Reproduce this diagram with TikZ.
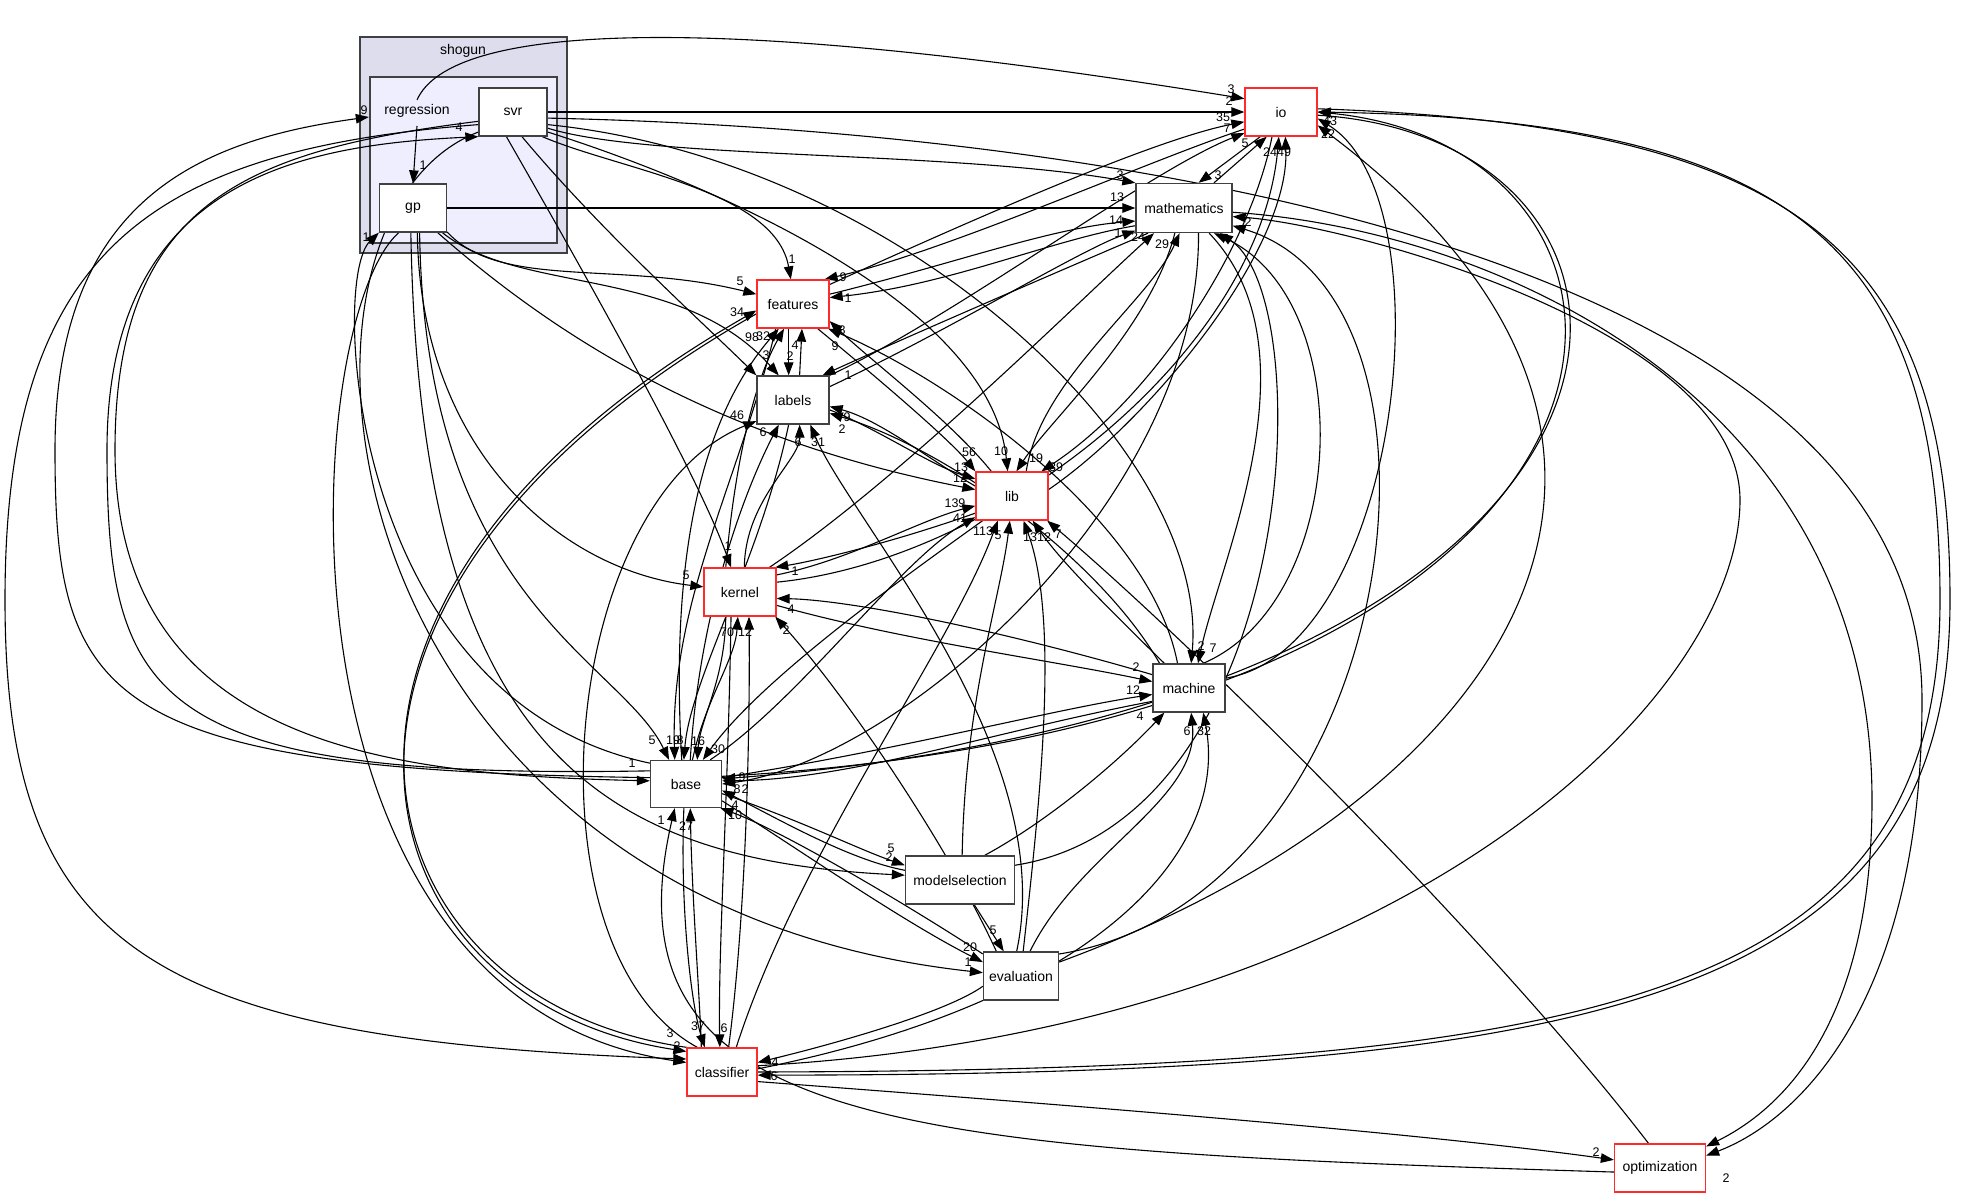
\documentclass[tikz,border=0pt]{standalone}
\usepackage{fontspec}
\setmainfont{Liberation Sans}
\usetikzlibrary{arrows.meta,backgrounds}
\definecolor{boxgray}{HTML}{404040}
\definecolor{borderred}{HTML}{FF2A2A}
\definecolor{shogunbg}{HTML}{DDDDEE}
\definecolor{regressionbg}{HTML}{EEEEFF}
\begin{document}
\begin{tikzpicture}
  [x=1pt,y=-1pt,
  dirbox/.style={draw=boxgray,line width=1.3pt,fill=white,inner sep=0pt,
    minimum width=72pt,minimum height=48pt,font=\fontsize{14}{16}\selectfont},
  reddir/.style={dirbox,draw=borderred},
  cluster/.style={draw=boxgray,line width=1.3pt},
  dep/.style={line width=1.1pt,-{Triangle[length=13pt,width=9.5pt]}},
  lbl/.style={inner sep=0pt,font=\fontsize{12.5}{14}\selectfont}]
  \useasboundingbox (0,0) rectangle (1979,1197);
  %Verzeichnisse
  \node [font=\fontsize{14}{16}\selectfont] (shoguntitle) at (463,51) {shogun};
  \node [inner sep=0pt,minimum width=96pt,minimum height=48pt,
    font=\fontsize{14}{16}\selectfont] (regression) at (417,111) {regression};
  \node [dirbox,minimum width=68pt] (svr) at (513,112) {svr};
  \node [dirbox,minimum width=67pt] (gp) at (413,208) {gp};
  \node [reddir] (io) at (1281,112) {io};
  \node [dirbox,minimum width=96pt,minimum height=49pt] (math) at (1184,208) {mathematics};
  \node [reddir] (features) at (793,304) {features};
  \node [dirbox] (labels) at (793,400) {labels};
  \node [reddir] (lib) at (1012,496) {lib};
  \node [reddir] (kernel) at (740,592) {kernel};
  \node [dirbox,minimum width=71pt,minimum height=47pt] (base) at (686,784) {base};
  \node [dirbox] (machine) at (1189,688) {machine};
  \node [dirbox,minimum width=109pt] (modelselection) at (960,880) {modelselection};
  \node [dirbox,minimum width=75pt] (evaluation) at (1021,976) {evaluation};
  \node [reddir,minimum width=70pt] (classifier) at (722,1072) {classifier};
  \node [reddir,minimum width=91pt] (optimization) at (1660,1168) {optimization};
  \begin{pgfonlayer}{background}
  %Cluster
  \draw [cluster,fill=shogunbg] (360,37) rectangle (567,253);
  \draw [cluster,fill=regressionbg] (370,77) rectangle (557,243);
  %regression, svr
  \draw [dep] ([yshift=-15pt]regression.center) -- (gp.north) node [lbl] at (423,165) {1};
  \draw [dep] ([yshift=11pt]regression.center) .. controls (450,25) and (700,10) .. (io.160) node [lbl] at (1231,89) {3};
  \draw [dep] (svr.east) -- (io.west) node [lbl] at (1229,101) {2};
  \draw [dep] (svr.-25) .. controls (650,160) and (950,150) .. (math.north west) node [lbl] at (1120,175) {3};
  \draw [dep] (svr.-40) .. controls (620,170) and (775,190) .. (features.95) node [lbl] at (792,259) {1};
  \draw [dep] (svr.-70) .. controls (600,230) and (700,320) .. (labels.north west);
  \draw [dep] (svr.-105) .. controls (600,300) and (700,480) .. (kernel.110) node [lbl] at (728,546) {1};
  \draw [dep] (svr.-30) .. controls (700,180) and (990,300) .. (lib.100) node [lbl] at (1001,451) {10};
  \draw [dep] (svr.-20) .. controls (900,160) and (1210,450) .. (machine.85) node [lbl] at (1201,646) {2};
  \draw [dep] (svr.-10) .. controls (1100,130) and (1922,250) .. (1922,700) .. controls (1922,1000) and (1800,1120) .. (optimization.15);
  \draw [dep] (svr.-150) .. controls (250,220) and (320,900) .. (evaluation.175) node [lbl] at (968,962) {1};
  \draw [dep] (svr.200) .. controls (150,150) and (5,250) .. (5,600) .. controls (5,950) and (150,1040) .. (classifier.160) node [lbl] at (670,1033) {3};
  \draw [dep] (svr.195) .. controls (250,150) and (115,200) .. (115,450) .. controls (115,750) and (400,775) .. (base.175) node [lbl] at (632,763) {1};
  %gp
  \draw [dep] (gp.east) -- (math.west) node [lbl] at (1117,197) {13};
  \draw [dep] (gp.-35) .. controls (500,290) and (620,260) .. (features.165) node [lbl] at (740,281) {5};
  \draw [dep] (gp.-40) .. controls (520,295) and (680,265) .. (labels.120) node [lbl] at (766,355) {3};
  \draw [dep] (gp.-45) .. controls (560,340) and (720,440) .. (lib.170) node [lbl] at (960,478) {12};
  \draw [dep] (gp.-80) .. controls (420,450) and (560,570) .. (kernel.172) node [lbl] at (686,575) {5};
  \draw [dep] (gp.-75) .. controls (425,600) and (620,660) .. (base.125) node [lbl] at (652,740) {5};
  \draw [dep] (gp.-95) .. controls (420,750) and (600,860) .. (modelselection.175) node [lbl] at (889,857) {2};
  \draw [dep] (gp.-120) .. controls (300,320) and (260,1000) .. (classifier.165) node [lbl] at (677,1046) {2};
  %io
  \draw [dep] (io.230) -- (math.60) node [lbl] at (1218,175) {3};
  \draw [dep] (io.205) .. controls (1150,160) and (950,250) .. (features.38) node [lbl] at (843,277) {9};
  \draw [dep] (io.-110) .. controls (1250,250) and (1150,400) .. (lib.40) node [lbl] at (1056,467) {39};
  \draw [dep] (io.-5) .. controls (1720,140) and (1720,700) .. (base.8) node [lbl] at (742,777) {9};
  \draw [dep] (io.5) .. controls (1800,125) and (1950,250) .. (1950,600) .. controls (1950,1000) and (1600,1075) .. (classifier.-5) node [lbl] at (774,1076) {6};
  %mathematics
  \draw [dep] (math.40) -- (io.240) node [lbl] at (1245,143) {5};
  \draw [dep] (math.200) .. controls (1050,240) and (950,285) .. (features.10) node [lbl] at (848,298) {1};
  \draw [dep] (math.215) .. controls (1050,275) and (900,340) .. (labels.40) node [lbl] at (848,375) {1};
  \draw [dep] (math.-110) .. controls (1150,330) and (1050,420) .. (lib.80) node [lbl] at (1036,458) {19};
  \draw [dep] (math.-45) .. controls (1320,350) and (1220,560) .. (machine.70) node [lbl] at (1213,648) {7};
  \draw [dep] (math.-60) .. controls (1200,500) and (900,760) .. (base.0) node [lbl] at (737,789) {8};
  \draw [dep] (math.-5) .. controls (1500,230) and (1872,400) .. (1872,800) .. controls (1872,1000) and (1800,1100) .. (optimization.25) node [lbl] at (1726,1178) {2};
  %features
  \draw [dep] (features.28) .. controls (950,230) and (1150,140) .. (io.195) node [lbl] at (1223,117) {35};
  \draw [dep] (features.15) .. controls (950,265) and (1050,228) .. (math.195) node [lbl] at (1116,220) {14};
  \draw [dep] (features.-100) -- (labels.100) node [lbl] at (790,356) {2};
  \draw [dep] (features.-45) .. controls (880,380) and (950,440) .. (lib.north west) node [lbl] at (969,452) {56};
  \draw [dep] (features.-125) .. controls (740,480) and (670,600) .. (base.115) node [lbl] at (673,740) {19};
  \draw [dep] (features.195) .. controls (250,600) and (350,1000) .. (classifier.150);
  %labels
  \draw [dep] (labels.north east) .. controls (950,320) and (1150,170) .. (io.210) node [lbl] at (1227,128) {7};
  \draw [dep] (labels.20) .. controls (950,330) and (1080,250) .. (math.205) node [lbl] at (1118,233) {1};
  \draw [dep] (labels.75) -- (features.-70) node [lbl] at (795,345) {4};
  \draw [dep] (labels.-15) .. controls (880,430) and (930,465) .. (lib.155) node [lbl] at (961,467) {13};
  \draw [dep] (labels.-100) .. controls (760,560) and (690,680) .. (base.95) node [lbl] at (680,740) {8};
  %lib
  \draw [dep] (lib.10) .. controls (1150,420) and (1290,250) .. (io.-80) node [lbl] at (1284,152) {49};
  \draw [dep] (lib.60) .. controls (1040,380) and (1150,300) .. (math.-100) node [lbl] at (1162,244) {29};
  \draw [dep] (lib.130) .. controls (950,420) and (870,360) .. (features.-25) node [lbl] at (842,330) {8};
  \draw [dep] (lib.165) .. controls (930,460) and (880,420) .. (labels.-10) node [lbl] at (847,417) {9};
  \draw [dep] (lib.205) .. controls (900,540) and (820,560) .. (kernel.35) node [lbl] at (795,571) {1};
  \draw [dep] (lib.220) .. controls (900,580) and (760,680) .. (base.55) node [lbl] at (718,749) {30};
  %kernel
  \draw [dep] (kernel.15) .. controls (1000,560) and (1260,350) .. (io.-95) node [lbl] at (1270,152) {24};
  \draw [dep] (kernel.40) .. controls (900,480) and (1080,300) .. (math.220) node [lbl] at (1138,237) {24};
  \draw [dep] (kernel.120) .. controls (735,460) and (755,380) .. (features.-110) node [lbl] at (763,336) {32};
  \draw [dep] (kernel.80) .. controls (745,500) and (800,460) .. (labels.-75) node [lbl] at (798,442) {6};
  \draw [dep] (kernel.25) .. controls (850,560) and (920,520) .. (lib.195) node [lbl] at (955,503) {139};
  \draw [dep] (kernel.-120) .. controls (725,680) and (700,720) .. (base.65) node [lbl] at (698,741) {16};
  \draw [dep] (kernel.-20) .. controls (900,640) and (1050,660) .. (machine.170) node [lbl] at (1136,667) {2};
  \draw [dep] (kernel.-110) .. controls (728,800) and (718,950) .. (classifier.95) node [lbl] at (724,1028) {6};
  %base
  \draw [dep] (base.100) .. controls (670,560) and (700,420) .. (features.-120) node [lbl] at (752,337) {98};
  \draw [dep] (base.80) .. controls (700,600) and (750,480) .. (labels.-120) node [lbl] at (763,432) {6};
  \draw [dep] (base.75) .. controls (705,700) and (735,660) .. (kernel.-95) node [lbl] at (727,632) {70};
  \draw [dep] (base.45) .. controls (800,700) and (900,560) .. (lib.210) node [lbl] at (960,518) {41};
  \draw [dep] (base.10) .. controls (900,750) and (1050,710) .. (machine.190) node [lbl] at (1133,690) {12};
  \draw [dep] (base.-15) .. controls (800,820) and (860,850) .. (modelselection.165) node [lbl] at (891,848) {5};
  \draw [dep] (base.-25) .. controls (800,850) and (900,920) .. (evaluation.160) node [lbl] at (970,947) {20};
  \draw [dep] (base.-95) .. controls (680,900) and (690,1000) .. (classifier.125) node [lbl] at (698,1026) {37};
  \draw [dep] (base.170) .. controls (100,770) and (55,700) .. (55,450) .. controls (55,200) and (200,140) .. ([yshift=-6pt]regression.west) node [lbl] at (364,110) {9};
  \draw [dep] (base.160) .. controls (150,780) and (107,700) .. (107,450) .. controls (107,180) and (300,145) .. (svr.south west) node [lbl] at (459,127) {4};
  \draw [dep] (base.150) .. controls (350,700) and (330,280) .. (gp.south west) node [lbl] at (366,237) {1};
  \draw [dep] (base.12) .. controls (1710,720) and (1710,150) .. (io.0);
  %modelselection
  \draw [dep] (modelselection.170) .. controls (850,860) and (780,820) .. (base.-10) node [lbl] at (735,805) {4};
  \draw [dep] (modelselection.-60) -- (evaluation.125) node [lbl] at (993,930) {5};
  \draw [dep] (modelselection.45) .. controls (1050,820) and (1120,760) .. (machine.-135) node [lbl] at (1140,716) {4};
  \draw [dep] (modelselection.85) .. controls (965,700) and (1000,600) .. (lib.-95) node [lbl] at (998,535) {5};
  \draw [dep] (modelselection.15) .. controls (1300,820) and (1320,300) .. (math.-35);
  %evaluation
  \draw [dep] (evaluation.150) .. controls (900,900) and (780,830) .. (base.-35) node [lbl] at (735,815) {10};
  \draw [dep] (evaluation.100) .. controls (1060,750) and (850,520) .. (labels.-55) node [lbl] at (818,442) {31};
  \draw [dep] (evaluation.85) .. controls (1040,800) and (1060,620) .. (lib.-65) node [lbl] at (1030,537) {13};
  \draw [dep] (evaluation.135) .. controls (950,850) and (850,700) .. (kernel.-35) node [lbl] at (786,630) {2};
  \draw [dep] (evaluation.70) .. controls (1080,850) and (1200,800) .. (machine.-85) node [lbl] at (1187,731) {6};
  \draw [dep] (evaluation.-165) .. controls (950,1010) and (850,1040) .. (classifier.15) node [lbl] at (775,1062) {4};
  \draw [dep] (evaluation.30) .. controls (1400,900) and (1480,300) .. (math.-20);
  \draw [dep] (evaluation.20) .. controls (1500,800) and (1750,450) .. (io.-20) node [lbl] at (1328,134) {22};
  %machine
  \draw [dep] (machine.135) .. controls (1100,600) and (1060,560) .. (lib.-50) node [lbl] at (1044,537) {12};
  \draw [dep] (machine.115) .. controls (1150,520) and (950,380) .. (features.-35) node [lbl] at (835,346) {9};
  \draw [dep] (machine.140) .. controls (1100,560) and (950,450) .. (labels.-20) node [lbl] at (842,429) {2};
  \draw [dep] (machine.160) .. controls (1000,630) and (850,600) .. (kernel.-10) node [lbl] at (791,609) {4};
  \draw [dep] (machine.200) .. controls (1000,730) and (850,780) .. (base.5) node [lbl] at (745,789) {2};
  \draw [dep] (machine.60) .. controls (1350,600) and (1360,300) .. (math.-40);
  \draw [dep] (machine.15) .. controls (1400,650) and (1450,200) .. (io.-10);
  %classifier
  \draw [dep] (classifier.75) .. controls (748,900) and (750,700) .. (kernel.-70) node [lbl] at (745,632) {12};
  \draw [dep] (classifier.130) .. controls (700,1000) and (692,900) .. (base.-80) node [lbl] at (686,826) {27};
  \draw [dep] (classifier.60) .. controls (800,850) and (950,650) .. (lib.-120) node [lbl] at (983,531) {113};
  \draw [dep] (classifier.145) .. controls (350,1000) and (250,600) .. (features.190) node [lbl] at (737,312) {34};
  \draw [dep] (classifier.135) .. controls (520,950) and (560,500) .. (labels.210) node [lbl] at (737,415) {46};
  \draw [dep] (classifier.5) .. controls (1100,1000) and (1230,850) .. (machine.-60) node [lbl] at (1204,731) {32};
  \draw [dep] (classifier.-15) .. controls (1000,1100) and (1400,1130) .. (optimization.170) node [lbl] at (1596,1152) {2};
  \draw [dep] (classifier.10) .. controls (1400,1030) and (1740,700) .. (1740,500) .. controls (1740,330) and (1350,225) .. (math.-10) node [lbl] at (1248,222) {2};
  \draw [dep] (classifier.0) .. controls (1600,1070) and (1940,1000) .. (1940,600) .. controls (1940,250) and (1800,120) .. (io.east) node [lbl] at (1330,121) {43};
  %optimization
  \draw [dep] (optimization.115) .. controls (1500,950) and (1200,650) .. (lib.-35) node [lbl] at (1058,534) {7};
  \draw [dep] (optimization.185) .. controls (900,1150) and (600,1130) .. (base.-115) node [lbl] at (661,820) {1};
  \end{pgfonlayer}
\end{tikzpicture}
\end{document}
